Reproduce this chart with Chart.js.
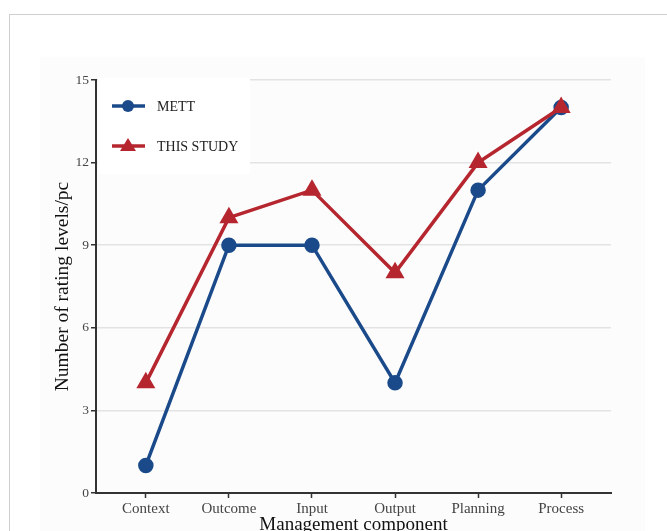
<!DOCTYPE html>
<html>
<head>
<meta charset="utf-8">
<script src="https://cdn.jsdelivr.net/npm/chart.js@4"></script>
<style>
  html, body { margin: 0; padding: 0; background: #fff; }
  #wrap { position: relative; width: 667px; height: 531px; overflow: hidden; }
  #frame { position: absolute; left: 9px; top: 14px; right: -2px; bottom: -2px;
           border-left: 1px solid #cfcfcf; border-top: 1px solid #cfcfcf; }
  #cv { position: absolute; left: 0; top: 0; }
</style>
</head>
<body>
<div id="wrap">
  <div id="frame"></div>
  <canvas id="cv" width="667" height="531"></canvas>
</div>
<script>
// chart data
const components = ["Context", "Outcome", "Input", "Output", "Planning", "Process"];
const mettLevels = [1, 9, 9, 4, 11, 14];
const studyLevels = [4, 10, 11, 8, 12, 14];
const yTicks = [0, 3, 6, 9, 12, 15];

const blue = "#1b4a8a";
const red = "#b5262f";
const serif = "'Liberation Serif', 'DejaVu Serif', serif";

// faint panel behind the plot, like the source figure
const panelBg = {
  id: "panelBg",
  beforeDraw(chart) {
    const ctx = chart.ctx;
    ctx.save();
    ctx.fillStyle = "#fcfcfc";
    ctx.fillRect(40, 57, 605, 480);
    ctx.restore();
  }
};

// legend sits inside the plot, top left, on a white box
const insideLegend = {
  id: "insideLegend",
  beforeDatasetsDraw(chart) {
    const ctx = chart.ctx;
    const area = chart.chartArea;
    ctx.save();
    ctx.fillStyle = "#ffffff";
    ctx.fillRect(area.left + 2, area.top - 2, 152, 96);
    chart.data.datasets.forEach((ds, i) => {
      const y = area.top + 26 + i * 40;
      const x0 = area.left + 16;
      ctx.strokeStyle = ds.borderColor;
      ctx.lineWidth = 3.5;
      ctx.beginPath();
      ctx.moveTo(x0, y);
      ctx.lineTo(x0 + 33, y);
      ctx.stroke();
      ctx.fillStyle = ds.backgroundColor;
      ctx.beginPath();
      if (ds.pointStyle === "triangle") {
        ctx.moveTo(x0 + 16, y - 8);
        ctx.lineTo(x0 + 24, y + 5);
        ctx.lineTo(x0 + 8, y + 5);
        ctx.closePath();
      } else {
        ctx.arc(x0 + 16, y, 6, 0, Math.PI * 2);
      }
      ctx.fill();
      ctx.fillStyle = "#222";
      ctx.font = "14px " + serif;
      ctx.textBaseline = "middle";
      ctx.fillText(ds.label, x0 + 45, y + 1);
    });
    ctx.restore();
  }
};

new Chart(document.getElementById("cv"), {
  type: "line",
  data: {
    datasets: [
      {
        label: "METT",
        data: mettLevels.map((v, i) => ({ x: i, y: v })),
        borderColor: blue,
        backgroundColor: blue,
        pointStyle: "circle",
        pointRadius: 6,
        borderWidth: 3.5,
        order: 1
      },
      {
        label: "THIS STUDY",
        data: studyLevels.map((v, i) => ({ x: i, y: v })),
        borderColor: red,
        backgroundColor: red,
        pointStyle: "triangle",
        pointRadius: 7.5,
        borderWidth: 3.5,
        order: 0
      }
    ]
  },
  options: {
    responsive: false,
    animation: false,
    layout: { padding: { left: 0, top: 80, right: 56, bottom: 0 } },
    plugins: { legend: { display: false }, tooltip: { enabled: false } },
    scales: {
      x: {
        type: "linear",
        min: -0.6,
        max: components.length - 0.4,
        afterBuildTicks: (scale) => { scale.ticks = components.map((c, i) => ({ value: i })); },
        afterFit: (scale) => { scale.height = 38; },
        ticks: {
          callback: (v) => components[v],
          color: "#444",
          font: { family: serif, size: 15 },
          padding: 2,
          maxRotation: 0
        },
        grid: { drawOnChartArea: false, tickLength: 5, tickColor: "#333", tickWidth: 1.5 },
        border: { color: "#333", width: 2 },
        title: {
          display: true,
          text: "Management component",
          color: "#111",
          font: { family: serif, size: 19, lineHeight: 1 },
          padding: { top: 0, bottom: -3.5 }
        }
      },
      y: {
        min: 0,
        max: 15,
        afterBuildTicks: (scale) => { scale.ticks = yTicks.map((v) => ({ value: v })); },
        afterFit: (scale) => { scale.width = 96; },
        ticks: {
          color: "#444",
          font: { family: serif, size: 13.5 },
          padding: 2
        },
        grid: { color: "#e3e3e3", lineWidth: 1.5, tickLength: 5, tickColor: "#333", tickWidth: 1.5 },
        border: { color: "#333", width: 2 },
        title: {
          display: true,
          text: "Number of rating levels/pc",
          color: "#111",
          font: { family: serif, size: 19.5, lineHeight: 1 },
          padding: { top: 53, bottom: 0 }
        }
      }
    }
  },
  plugins: [panelBg, insideLegend]
});
</script>
</body>
</html>
